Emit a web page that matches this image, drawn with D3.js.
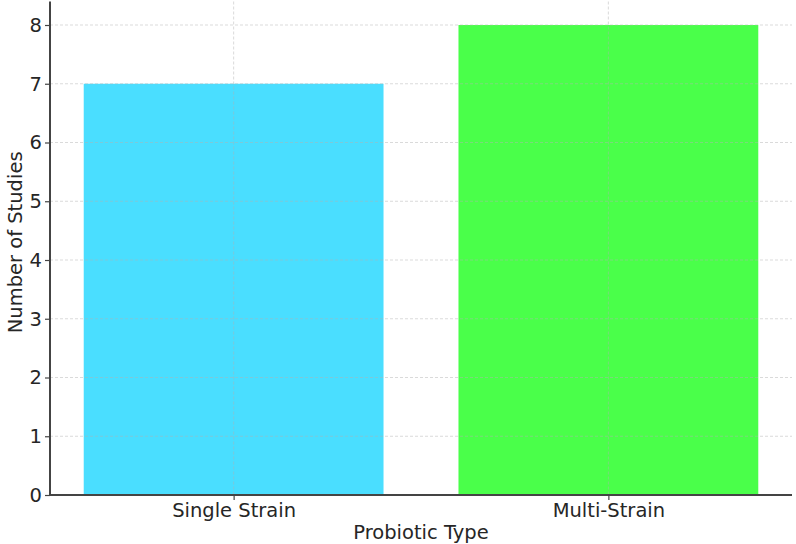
<!DOCTYPE html>
<html><head><meta charset="utf-8">
<script src="https://cdn.jsdelivr.net/npm/d3@7"></script>
<style>body{margin:0;background:#fff;} svg{display:block;font-family:"DejaVu Sans",sans-serif;}</style>
</head><body>
<svg id="c" width="796" height="544"></svg>
<script>
const categories = ["Single Strain", "Multi-Strain"];
const values = [7, 8];
const colors = ["#4adeff", "#4aff4a"];
const yTicks = [0,1,2,3,4,5,6,7,8];

const FS = 19.5;
const svg = d3.select("#c");
const m = {left: 50, top: 1.5, right: 4, bottom: 49};
const W = 796, H = 544;
const x = d3.scaleLinear().domain([-0.49, 1.49]).range([m.left, W - m.right]);
const y = d3.scaleLinear().domain([0, 8.4]).range([H - m.bottom, m.top]);

// bars
svg.selectAll("rect.bar").data(values).enter().append("rect")
  .attr("x", (d,i) => x(i - 0.4))
  .attr("width", (d,i) => x(i + 0.4) - x(i - 0.4))
  .attr("y", d => y(d))
  .attr("height", d => y(0) - y(d))
  .attr("fill", (d,i) => colors[i]);

// grid
const g = svg.append("g");
g.selectAll("line.h").data(yTicks.slice(1)).enter().append("line")
  .attr("x1", m.left).attr("x2", W - m.right)
  .attr("y1", d => y(d)).attr("y2", d => y(d))
  .attr("stroke", "#b0b0b0").attr("stroke-opacity", 0.6).attr("stroke-width", 0.8).attr("stroke-dasharray", "3,2");
g.selectAll("line.v").data(categories.map((c,i)=>i)).enter().append("line")
  .attr("x1", d => x(d)).attr("x2", d => x(d))
  .attr("y1", m.top).attr("y2", y(0))
  .attr("stroke", "#b0b0b0").attr("stroke-opacity", 0.6).attr("stroke-width", 0.8).attr("stroke-dasharray", "3,2");

// y axis
const yAxis = d3.axisLeft(y).tickValues(yTicks).tickSize(5).tickPadding(3).tickFormat(d3.format("d"));
const ya = svg.append("g").attr("transform", `translate(${m.left},0)`).call(yAxis);
ya.select(".domain").attr("stroke", "#444").attr("stroke-width", 2).attr("d", `M0,${y(0)}V${m.top}`);
ya.selectAll(".tick line").attr("stroke", "#444").attr("stroke-width", 1.2);
ya.selectAll(".tick text").attr("font-size", FS).attr("fill", "#262626").attr("font-family", "DejaVu Sans");

// x axis
const xa = svg.append("g").attr("transform", `translate(0,${y(0)})`)
  .call(d3.axisBottom(x).tickValues([0,1]).tickFormat(i => categories[i]).tickSize(5).tickPadding(3));
xa.select(".domain").attr("stroke", "#444").attr("stroke-width", 2).attr("d", `M${m.left},0H${W - m.right}`);
xa.selectAll(".tick line").attr("stroke", "#444").attr("stroke-width", 1.2);
xa.selectAll(".tick text").attr("font-size", FS).attr("fill", "#262626").attr("font-family", "DejaVu Sans");

// labels
svg.append("text").attr("x", (m.left + W - m.right)/2).attr("y", 539).attr("text-anchor", "middle")
  .attr("font-size", FS).attr("fill", "#262626").text("Probiotic Type");
svg.append("text").attr("transform", `translate(22,${y(4.3)}) rotate(-90)`).attr("text-anchor", "middle")
  .attr("font-size", FS).attr("fill", "#262626").text("Number of Studies");
</script>
</body></html>
